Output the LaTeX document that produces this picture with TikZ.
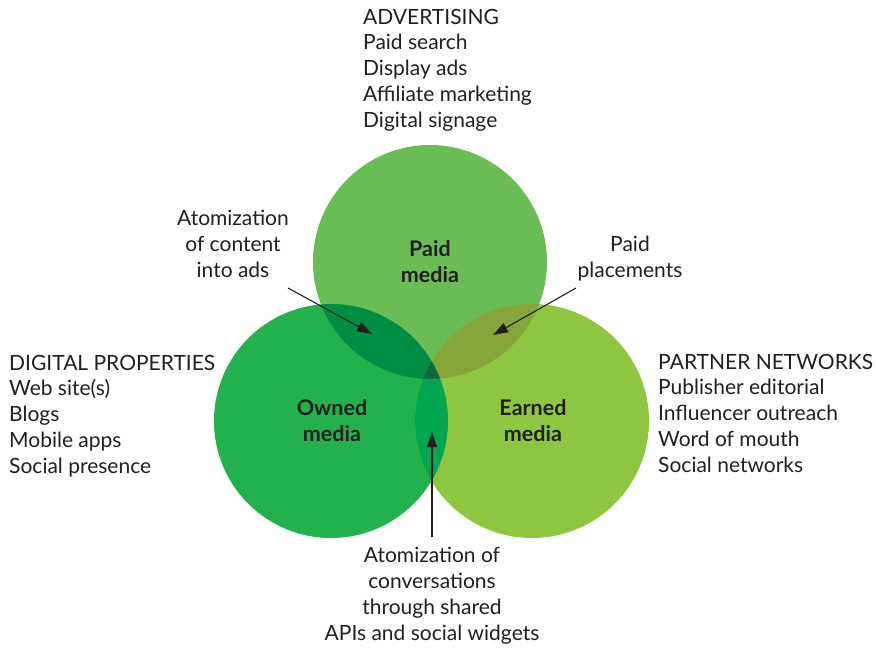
\documentclass[tikz,border=0pt]{standalone}
\usepackage{fontspec}
\setmainfont{Lato}
\usetikzlibrary{arrows.meta}
\definecolor{paidc}{HTML}{6ABD54}
\definecolor{ownc}{HTML}{23B14D}
\definecolor{earnc}{HTML}{8DC63F}
\definecolor{poc}{HTML}{008D44}
\definecolor{pec}{HTML}{85A43A}
\definecolor{oec}{HTML}{00A651}
\definecolor{ctrc}{HTML}{0F6B3D}
\definecolor{txt}{HTML}{231F20}
\begin{document}
\begin{tikzpicture}[x=1pt,y=-1pt,
  lbl/.style={font=\fontsize{21}{25.7}\selectfont, text=txt, inner sep=0pt},
  blk/.style={lbl, align=left, anchor=base west},
  cen/.style={lbl, align=center, anchor=base},
  med/.style={font=\fontsize{21.5}{26}\selectfont\bfseries, text=txt, inner sep=0pt, align=center, anchor=base},
  arr/.style={-{Triangle[length=15pt,width=10pt]}, line width=1.1pt, draw=txt}]
\useasboundingbox (0,0) rectangle (876,648);
\def\R{117pt}
\coordinate (P) at (430,262);
\coordinate (O) at (331,421);
\coordinate (E) at (532,421);
\fill[paidc] (P) circle (\R);
\fill[ownc] (O) circle (\R);
\fill[earnc] (E) circle (\R);
\begin{scope}\clip (P) circle (\R); \fill[poc] (O) circle (\R);\end{scope}
\begin{scope}\clip (P) circle (\R); \fill[pec] (E) circle (\R);\end{scope}
\begin{scope}\clip (O) circle (\R); \fill[oec] (E) circle (\R);\end{scope}
\begin{scope}\clip (P) circle (\R); \clip (O) circle (\R); \fill[ctrc] (E) circle (\R);\end{scope}

% anchors are at the baseline of the last line
\node[med] (paid) at (430,282) {Paid\\media};
\node[med] (owned) at (332,441) {Owned\\media};
\node[med] (earned) at (533,441) {Earned\\media};

\node[blk] (adv) at (363,127) {ADVERTISING\\Paid search\\Display ads\\Affiliate marketing\\Digital signage};
\node[blk] (dig) at (9,473) {DIGITAL PROPERTIES\\Web site(s)\\Blogs\\Mobile apps\\Social presence};
\node[blk] (par) at (658,472) {PARTNER NETWORKS\\Publisher editorial\\Influencer outreach\\Word of mouth\\Social networks};
\node[cen] (atc) at (233,277) {Atomization\\of content\\into ads};
\node[cen] (ppl) at (630,277) {Paid\\placements};
\node[cen] (atv) at (432,640) {Atomization of\\conversations\\through shared\\APIs and social widgets};

\coordinate (a1) at (288,288);
\coordinate (t1) at (372,334);
\coordinate (a2) at (576,288);
\coordinate (t2) at (493,335);
\coordinate (a3) at (432,537);
\coordinate (t3) at (432,432);
\draw[arr] (a1) -- (t1);
\draw[arr] (a2) -- (t2);
\draw[arr] (a3) -- (t3);
\end{tikzpicture}
\end{document}
